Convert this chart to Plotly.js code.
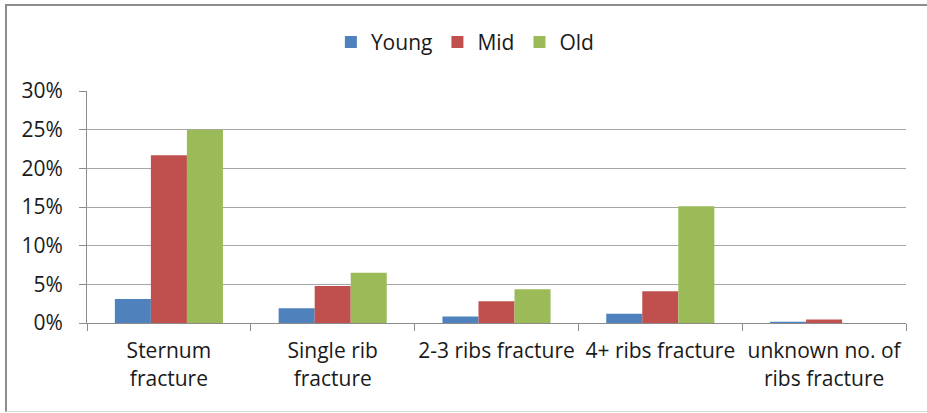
<!DOCTYPE html>
<html>
<head>
<meta charset="utf-8">
<script src="https://cdn.plot.ly/plotly-3.0.1.min.js"></script>
<style>
  html, body { margin: 0; padding: 0; background: #fff; }
  #wrap { position: relative; width: 927px; height: 413px; }
  #chart { width: 927px; height: 413px; }
  #frame { position: absolute; left: 5px; top: 4px; right: 0; bottom: 1px;
           border-top: 2px solid #8c8c8c; border-left: 2px solid #8c8c8c;
           border-bottom: 1px solid #d9d9d9; pointer-events: none; }
</style>
</head>
<body>
<div id="wrap">
  <div id="chart"></div>
  <div id="frame"></div>
</div>
<script>
const categories = ["Sternum<br>fracture", "Single rib<br>fracture", "2-3 ribs fracture", "4+ ribs fracture", "unknown no. of<br>ribs fracture"];
const seriesNames = ["Young", "Mid", "Old"];
const young = [3.1, 1.9, 0.85, 1.2, 0.15];
const mid = [21.7, 4.8, 2.8, 4.1, 0.45];
const old = [25.0, 6.5, 4.35, 15.1, 0];
const yTickVals = [0, 5, 10, 15, 20, 25, 30];
const yTickText = ["0%", "5%", "10%", "15%", "20%", "25%", "30%"];
const colors = ["#4F81BD", "#C0504D", "#9BBB59"];

const font = "Open Sans, Lato, sans-serif";
const values = [young, mid, old];
const traces = seriesNames.map((n, i) => ({
  type: "bar", name: n, x: categories, y: values[i],
  marker: { color: colors[i] }, hoverinfo: "skip"
}));

const layout = {
  width: 927, height: 413,
  margin: { l: 87, r: 21, t: 91, b: 90 },
  paper_bgcolor: "#fff", plot_bgcolor: "#fff",
  font: { family: font, size: 21, color: "#1a1a1a" },
  barmode: "group", bargap: 0.34, bargroupgap: 0,
  showlegend: true,
  legend: { orientation: "h", x: 0.462, xanchor: "center", y: 1.21, yanchor: "middle",
            font: { family: font, size: 21, color: "#1a1a1a" }, itemwidth: 30, tracegroupgap: 0 },
  xaxis: {
    type: "category", showgrid: false, showline: true, linecolor: "#8c8c8c", linewidth: 1,
    ticks: "outside", tickson: "boundaries", ticklen: 7, tickcolor: "#8c8c8c",
    ticklabelstandoff: 9, tickangle: 0,
    tickfont: { family: font, size: 21, color: "#1a1a1a" }, automargin: false, fixedrange: true
  },
  yaxis: {
    range: [0, 30], tickvals: yTickVals, ticktext: yTickText,
    showgrid: true, gridcolor: "#a6a6a6", gridwidth: 1, zeroline: false,
    showline: true, linecolor: "#8c8c8c", linewidth: 1,
    ticks: "outside", ticklen: 7, tickcolor: "#8c8c8c", ticklabelstandoff: 12,
    tickfont: { family: font, size: 21, color: "#1a1a1a" }, automargin: false, fixedrange: true
  }
};

Plotly.newPlot("chart", traces, layout, { displayModeBar: false, staticPlot: true });
</script>
</body>
</html>
